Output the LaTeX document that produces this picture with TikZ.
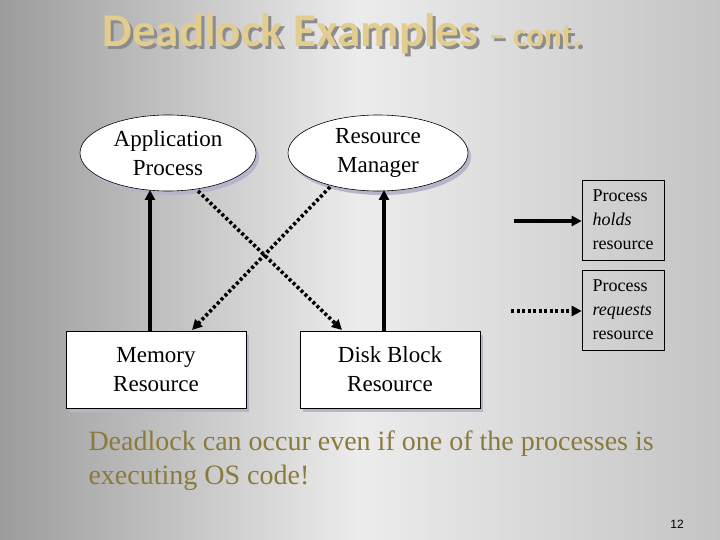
\documentclass[tikz,border=0pt]{standalone}
\usepackage{fontspec}
\setmainfont{Liberation Serif}
\newfontfamily\titlefont{Carlito}
\newfontfamily\sansf{Liberation Sans}
\usetikzlibrary{shapes.geometric,arrows.meta,shadows}
\definecolor{bgL}{HTML}{9C9C9C}
\definecolor{bgM}{HTML}{ECECEC}
\definecolor{bgR}{HTML}{C4C4C4}
\definecolor{tan}{HTML}{E2CD8E}
\definecolor{olive}{HTML}{8A7A3C}
\definecolor{shad}{HTML}{B8B4CC}
\begin{document}
\begin{tikzpicture}[x=1pt,y=-1pt,
  shp/.style={draw=black,fill=white,line width=0.6pt,font=\fontsize{23}{29}\selectfont,align=center,
    drop shadow={shadow xshift=3pt,shadow yshift=-4pt,fill=shad,opacity=1}},
  ell/.style={shp,ellipse,minimum width=176pt,minimum height=76pt,inner sep=0pt},
  box/.style={shp,rectangle,minimum width=180pt,minimum height=77pt},
  leg/.style={draw=black,line width=0.6pt,rectangle,minimum width=82pt,minimum height=80pt,align=left,font=\fontsize{18}{24}\selectfont,inner sep=4pt},
  hold/.style={line width=3.6pt,-{Triangle[length=10pt,width=10pt]}},
  req/.style={line width=3.6pt,dash pattern=on 3pt off 2.5pt,-{Triangle[length=10pt,width=10pt]}}]
\shade[left color=bgL,right color=bgR,middle color=bgM] (0,0) rectangle (720,540);
\useasboundingbox (0,0) rectangle (720,540);
\node[anchor=base west,text=black!45,font=\titlefont\bfseries\fontsize{47}{50}\selectfont] at (102,50) {Deadlock Examples \fontsize{33}{35}\selectfont – cont.};
\node[anchor=base west,text=tan,font=\titlefont\bfseries\fontsize{47}{50}\selectfont] (title) at (99,47) {Deadlock Examples \fontsize{33}{35}\selectfont – cont.};
\node[ell] (app) at (168,153) {Application\\Process};
\node[ell,minimum width=180pt] (rm) at (378,153) {Resource\\Manager};
\node[box] (mem) at (156,369.5) {Memory\\Resource};
\node[box] (disk) at (390,369.5) {Disk Block\\Resource};
\node[leg] (l1) at (623,220) {Process\\\textit{holds}\\resource};
\node[leg] (l2) at (623,310) {Process\\\textit{requests}\\resource};
\draw[hold] (mem.north -| 150,0) -- (150,190);
\draw[hold] (disk.north -| 384,0) -- (384,190);
\draw[req] (198,191) -- (342,330);
\draw[req] (330,187) -- (192,330);
\coordinate (h0) at (514,221);
\coordinate (r0) at (511,311);
\draw[hold] (h0) -- (l1.west |- h0);
\draw[req] (r0) -- (l2.west |- r0);
\node[anchor=base west,text=olive,align=left,font=\fontsize{28}{34}\selectfont] (dl) at (85,484) {Deadlock can occur even if one of the processes is\\executing OS code!};
\node[font=\sansf\fontsize{12}{12}\selectfont] (pg) at (677,524) {12};
\end{tikzpicture}
\end{document}
